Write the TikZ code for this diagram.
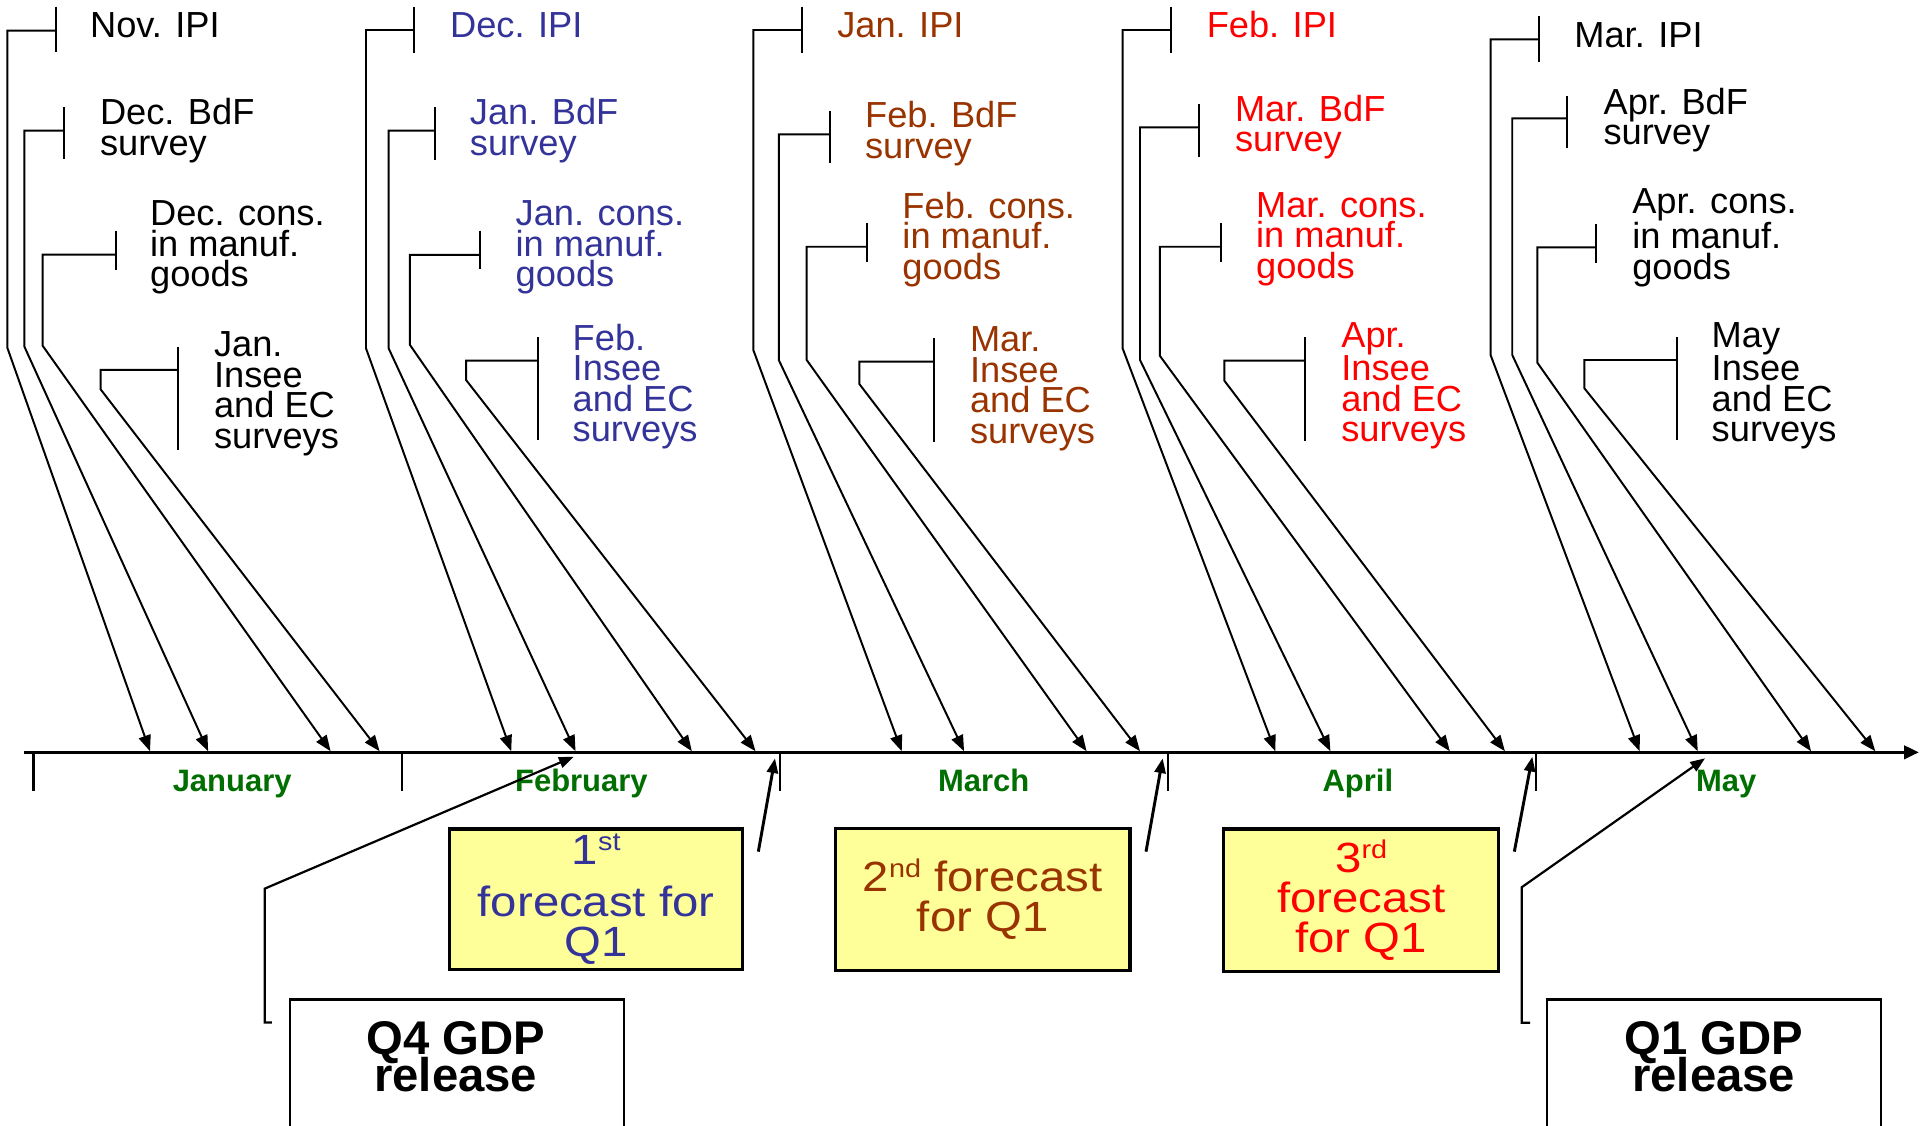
\documentclass[tikz,border=0pt]{standalone}
\usepackage{fontspec}
\setmainfont{Liberation Sans}
\newfontfamily\boxfont{Liberation Sans}[FakeStretch=1.12]
\usetikzlibrary{arrows.meta}

\definecolor{srcblue}{RGB}{51,51,153}
\definecolor{srcbrown}{RGB}{153,51,0}
\definecolor{srcred}{RGB}{255,0,0}
\definecolor{monthgreen}{RGB}{0,110,0}
\definecolor{boxyellow}{RGB}{255,255,153}

% raised ordinal suffix inside the forecast boxes
\newcommand\sups[1]{\raisebox{11.5pt}{\fontsize{21}{21}\selectfont #1}}

% one data source: bracket tick, elbow arm, trunk and arrow onto the time axis
% #1 name, #2 tick x, #3 tick top, #4 tick bottom, #5 arm y,
% #6 trunk x, #7 bend y, #8 arrival x on the axis
\newcommand\srcfeed[8]{%
  \coordinate (#1-arm) at (#2,#5);
  \coordinate (#1-in) at (#8,613.5);
  \draw[tickline] (#2,#3) -- (#2,#4);
  \draw[feedline] (#1-arm) -| (#6,#7) -- (#1-in);
}

% multi-line labels are placed by the baseline of their last line
\tikzset{
  feedline/.style={line width=1.6pt, -{Triangle[length=13pt,width=10pt]}},
  tickline/.style={line width=1.6pt},
  axisline/.style={line width=2.2pt, -{Triangle[length=12pt,width=11pt]}},
  monthtick/.style={line width=1.8pt},
  lbl/.style={anchor=base west, align=left, inner sep=0pt,
    font=\fontsize{29.6}{24.9}\selectfont},
  month/.style={anchor=base, inner sep=0pt, text=monthgreen,
    font=\bfseries\fontsize{25.3}{25.3}\selectfont},
  fcbox/.style={draw, line width=2.5pt, fill=boxyellow, align=center,
    inner sep=0pt, font=\boxfont\fontsize{34.5}{32.7}\selectfont},
  fcarrow/.style={line width=2.4pt, -{Triangle[length=12pt,width=9pt]}},
  gdpbox/.style={draw, line width=1.8pt, fill=white, anchor=north west,
    inner sep=0pt, minimum height=160pt},
  gdptext/.style={anchor=base, align=center, inner sep=0pt,
    font=\bfseries\fontsize{38.6}{32.1}\selectfont},
  gdpline/.style={line width=1.8pt, -{Triangle[length=12pt,width=9pt]}},
}

\begin{document}
\begin{tikzpicture}[x=1pt,y=-1pt]
\useasboundingbox (0,0) rectangle (1568,918.75);
\clip (0,0) rectangle (1568,918.75);

% ---- time axis ----
\coordinate (axis-start) at (20,614.4);
\coordinate (axis-end) at (1567,614.4);
\draw[axisline] (axis-start) -- (axis-end);
\foreach \mx in {27.4,328.5,637,954.1,1254.4}
  \draw[monthtick] (\mx,614.4) -- (\mx,645.7);

\node[month] (m-jan) at (189.6,646.5) {January};
\node[month] (m-feb) at (474.8,646.5) {February};
\node[month] (m-mar) at (803.4,646.5) {March};
\node[month] (m-apr) at (1108.9,646.5) {April};
\node[month] (m-may) at (1409.7,646.5) {May};

% ---- releases reaching the axis ----
\srcfeed{g1a}{45.5}{5.4}{42.7}{25}{6}{284}{122.5}
\srcfeed{g1b}{52.5}{87.6}{130}{106.7}{19.9}{283}{170}
\srcfeed{g1c}{94.5}{188.4}{220.5}{208}{34.8}{282.3}{270}
\srcfeed{g1d}{145.6}{283}{367.5}{302}{82.2}{318}{310}

\srcfeed{g2a}{338.4}{5.4}{43}{24.5}{298.9}{284.5}{417.5}
\srcfeed{g2b}{355.2}{87.6}{130.7}{106.7}{317.4}{284.5}{470}
\srcfeed{g2c}{392.3}{188.4}{220}{208.2}{334.8}{281.7}{565}
\srcfeed{g2d}{439.1}{275.5}{359.3}{294.5}{380.6}{310.3}{617}

\srcfeed{g3a}{654.7}{5.4}{43}{24.5}{615.2}{285.8}{736.4}
\srcfeed{g3b}{678}{90.4}{133}{109.7}{636}{294}{787.3}
\srcfeed{g3c}{708.3}{182}{214}{201.5}{658.8}{294}{887.4}
\srcfeed{g3d}{763}{276}{360.7}{295.4}{701.8}{313.6}{931}

\srcfeed{g4a}{956.3}{5.4}{43}{24.5}{916.8}{284.5}{1041.5}
\srcfeed{g4b}{979.4}{84.9}{128.5}{104}{931}{294}{1086.5}
\srcfeed{g4c}{996.9}{181.8}{214.2}{201.5}{947.3}{290.7}{1184}
\srcfeed{g4d}{1065.7}{275.5}{359.9}{294.5}{999.9}{310.9}{1229}

\srcfeed{g5a}{1257.1}{13.1}{50.9}{32.1}{1217.3}{289.9}{1339}
\srcfeed{g5b}{1280}{78.4}{121.1}{96.6}{1235}{289.9}{1386.5}
\srcfeed{g5c}{1303.4}{182.9}{214.5}{202}{1255.5}{296.2}{1479}
\srcfeed{g5d}{1369.3}{275.5}{359.3}{294}{1293.9}{317.1}{1531.5}

% ---- release labels ----
\node[lbl] (l1a) at (73.4,30.8) {Nov. IPI};
\node[lbl] (l1b) at (81.5,126.6) {Dec. BdF\\survey};
\node[lbl] (l1c) at (122.4,234) {Dec. cons.\\in manuf.\\goods};
\node[lbl] (l1d) at (174.6,366) {Jan.\\Insee\\and EC\\surveys};

\node[lbl,text=srcblue] (l2a) at (367.4,30.5) {Dec. IPI};
\node[lbl,text=srcblue] (l2b) at (383.6,126.6) {Jan. BdF\\survey};
\node[lbl,text=srcblue] (l2c) at (420.9,234.1) {Jan. cons.\\in manuf.\\goods};
\node[lbl,text=srcblue] (l2d) at (467.5,360.7) {Feb.\\Insee\\and EC\\surveys};

\node[lbl,text=srcbrown] (l3a) at (683.6,30.8) {Jan. IPI};
\node[lbl,text=srcbrown] (l3b) at (706.3,129.3) {Feb. BdF\\survey};
\node[lbl,text=srcbrown] (l3c) at (736.8,228) {Feb. cons.\\in manuf.\\goods};
\node[lbl,text=srcbrown] (l3d) at (792,362) {Mar.\\Insee\\and EC\\surveys};

\node[lbl,text=srcred] (l4a) at (985.3,30.5) {Feb. IPI};
\node[lbl,text=srcred] (l4b) at (1008.4,123.9) {Mar. BdF\\survey};
\node[lbl,text=srcred] (l4c) at (1025.6,227.3) {Mar. cons.\\in manuf.\\goods};
\node[lbl,text=srcred] (l4d) at (1095.2,360.7) {Apr.\\Insee\\and EC\\surveys};

\node[lbl] (l5a) at (1285.5,38.9) {Mar. IPI};
\node[lbl] (l5b) at (1309.4,118.4) {Apr. BdF\\survey};
\node[lbl] (l5c) at (1332.8,228.1) {Apr. cons.\\in manuf.\\goods};
\node[lbl] (l5d) at (1397.7,360.7) {May\\Insee\\and EC\\surveys};

% ---- forecast boxes ----
\node[fcbox,text=srcblue,minimum width=239.3pt,minimum height=114.6pt]
  (fc1) at (486.85,734.3) {1\sups{st}\\[9.5pt]forecast for\\Q1};
\node[fcbox,text=srcbrown,minimum width=240.6pt,minimum height=115.7pt]
  (fc2) at (802.5,734.4) {2\sups{nd} forecast\\for Q1};
\node[fcbox,text=srcred,minimum width=224.6pt,minimum height=116pt]
  (fc3) at (1111.6,735) {3\sups{rd}\\forecast\\for Q1};

\coordinate (fc1-from) at (619.3,695.5);
\coordinate (fc1-to) at (632.9,619.3);
\coordinate (fc2-from) at (935.9,695.5);
\coordinate (fc2-to) at (949.5,619.3);
\coordinate (fc3-from) at (1236.7,695.5);
\coordinate (fc3-to) at (1251.4,618);
\draw[fcarrow] (fc1-from) -- (fc1-to);
\draw[fcarrow] (fc2-from) -- (fc2-to);
\draw[fcarrow] (fc3-from) -- (fc3-to);

% ---- GDP releases ----
\node[gdpbox,minimum width=272.6pt] (q4box) at (235.9,815.3) {};
\node[gdptext] (q4text) at (372.2,891.5) {Q4 GDP\\[-6.5pt]release};
\node[gdpbox,minimum width=273pt] (q1box) at (1262.3,815.3) {};
\node[gdptext] (q1text) at (1399.5,891.5) {Q1 GDP\\[-6.5pt]release};

\coordinate (q4-stub) at (222,835);
\coordinate (q4-to) at (468.5,618);
\draw[gdpline] (q4-stub) -- (216.2,835) -- (216.2,725.7) -- (q4-to);
\coordinate (q1-stub) at (1249.5,835.2);
\coordinate (q1-to) at (1392.4,619.3);
\draw[gdpline] (q1-stub) -- (1242.7,835.2) -- (1242.7,724.6) -- (q1-to);
\end{tikzpicture}
\end{document}
